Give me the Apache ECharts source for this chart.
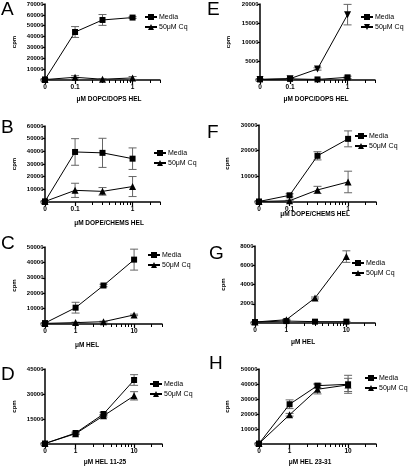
<!DOCTYPE html>
<html><head><meta charset="utf-8">
<script src="https://cdn.jsdelivr.net/npm/echarts@6/dist/echarts.min.js"></script>
<style>html,body{margin:0;padding:0;background:#fff}#c{width:410px;height:467px}</style>
</head><body><div id="c"></div>
<script>
// ---- data (x in μM; 0 is drawn at the left end of the log axis) ----
const xLipo = [0, 0.1, 0.3, 1];
const xHel = [0, 1, 3, 10];
const seriesNames = ['Media', '50μM Cq'];

const mediaA = [500, 44200, 55300, 57500];  const mediaA_err = [200, 5000, 5000, 800];
const cqA    = [400, 2500, 700, 1900];      const cqA_err    = [200, 1500, 400, 1300];
const mediaB = [500, 39500, 38800, 34200];  const mediaB_err = [200, 10500, 11500, 8500];
const cqB    = [400, 9200, 8400, 12200];    const cqB_err    = [200, 5600, 3000, 7900];
const mediaC = [600, 10600, 25000, 41800];  const mediaC_err = [300, 3500, 800, 6800];
const cqC    = [400, 900, 1500, 5900];      const cqC_err    = [100, 300, 300, 500];
const mediaD = [300, 6600, 18000, 38400];   const mediaD_err = [100, 600, 1000, 3200];
const cqD    = [300, 6200, 16900, 28900];   const cqD_err    = [100, 500, 800, 2500];
const mediaE = [150, 300, 150, 700];        const mediaE_err = [50, 100, 50, 300];
const cqE    = [150, 350, 2900, 17200];     const cqE_err    = [50, 100, 300, 2700];
const mediaF = [200, 2600, 18000, 24600];   const mediaF_err = [100, 600, 1600, 3100];
const cqF    = [200, 500, 4700, 7800];      const cqF_err    = [100, 200, 1400, 4200];
const mediaG = [100, 200, 140, 140];        const mediaG_err = [30, 50, 30, 30];
const cqG    = [100, 340, 2600, 6900];      const cqG_err    = [30, 50, 100, 600];
const mediaH = [300, 26500, 38900, 39800];  const mediaH_err = [100, 2900, 1500, 6000];
const cqH    = [300, 19500, 36500, 39400];  const cqH_err    = [100, 900, 3100, 4400];

const xTicksLipo = [0, 0.1, 1];
const xTicksHel = [0, 1, 10];
const xMinorLipo = [0.2, 0.3, 0.4, 0.5, 0.6, 0.7, 0.8, 0.9, 2, 3];
const xMinorHel = [2, 3, 4, 5, 6, 7, 8, 9, 20, 30];

const yMaxA = 70000, yStepA = 10000;
const yMaxB = 60000, yStepB = 10000;
const yMaxC = 50000, yStepC = 10000;
const yMaxD = 45000, yStepD = 15000;
const yMaxE = 20000, yStepE = 5000;
const yMaxF = 30000, yStepF = 10000;
const yMaxG = 8000,  yStepG = 2000;
const yMaxH = 50000, yStepH = 10000;

const xTitleA = 'μM DOPC/DOPS HEL';
const xTitleB = 'μM DOPE/CHEMS HEL';
const xTitleC = 'μM HEL';
const xTitleD = 'μM HEL 11-25';
const xTitleE = 'μM DOPC/DOPS HEL';
const xTitleF = 'μM DOPE/CHEMS HEL';
const xTitleG = 'μM HEL';
const xTitleH = 'μM HEL 23-31';

// ---- layout ----
const FONT = '"Liberation Sans", Arial, sans-serif';
const panels = [
  {id:'A', g:{left:45,top:4,width:115,height:76}, xs:xLipo, xr:[0.03,3], maj:xTicksLipo, mnr:xMinorLipo, m:mediaA, me:mediaA_err, c:cqA, ce:cqA_err, ymax:yMaxA, ystep:yStepA, title:xTitleA, tpos:[109,99], lg:[150,17], letter:[1,0], down:false},
  {id:'B', g:{left:45,top:126,width:115,height:76}, xs:xLipo, xr:[0.03,3], maj:xTicksLipo, mnr:xMinorLipo, m:mediaB, me:mediaB_err, c:cqB, ce:cqB_err, ymax:yMaxB, ystep:yStepB, title:xTitleB, tpos:[109,223], lg:[159,153], letter:[1,118], down:false},
  {id:'C', g:{left:45,top:247,width:117,height:77}, xs:xHel, xr:[0.3,30], maj:xTicksHel, mnr:xMinorHel, m:mediaC, me:mediaC_err, c:cqC, ce:cqC_err, ymax:yMaxC, ystep:yStepC, title:xTitleC, tpos:[87,345], lg:[153,255], letter:[1,234], down:false},
  {id:'D', g:{left:45,top:369,width:117,height:75}, xs:xHel, xr:[0.3,30], maj:xTicksHel, mnr:xMinorHel, m:mediaD, me:mediaD_err, c:cqD, ce:cqD_err, ymax:yMaxD, ystep:yStepD, title:xTitleD, tpos:[105,462], lg:[155,384], letter:[1,365], down:false},
  {id:'E', g:{left:260,top:4,width:115,height:76}, xs:xLipo, xr:[0.03,3], maj:xTicksLipo, mnr:xMinorLipo, m:mediaE, me:mediaE_err, c:cqE, ce:cqE_err, ymax:yMaxE, ystep:yStepE, title:xTitleE, tpos:[316,99], lg:[366,17], letter:[207,0], down:true},
  {id:'F', g:{left:259,top:125,width:117,height:77}, xs:xLipo, xr:[0.03,3], maj:xTicksLipo, mnr:xMinorLipo, m:mediaF, me:mediaF_err, c:cqF, ce:cqF_err, ymax:yMaxF, ystep:yStepF, title:xTitleF, tpos:[315,214], lg:[360,136], letter:[207,123], down:false},
  {id:'G', g:{left:255,top:246,width:120,height:77}, xs:xHel, xr:[0.3,30], maj:xTicksHel, mnr:xMinorHel, m:mediaG, me:mediaG_err, c:cqG, ce:cqG_err, ymax:yMaxG, ystep:yStepG, title:xTitleG, tpos:[303,342], lg:[357,263], letter:[209,244], down:false},
  {id:'H', g:{left:259,top:369,width:117,height:75}, xs:xHel, xr:[0.3,30], maj:xTicksHel, mnr:xMinorHel, m:mediaH, me:mediaH_err, c:cqH, ce:cqH_err, ymax:yMaxH, ystep:yStepH, title:xTitleH, tpos:[310,462], lg:[370,378], letter:[209,354], down:false}
];

const option = {animation:false, backgroundColor:'#fff', grid:[], xAxis:[], yAxis:[], series:[], legend:[], graphic:[]};

function errorSeries(gi, xs, xr, vals, errs, name) {
  return {
    type:'custom', name:name, xAxisIndex:gi*2, yAxisIndex:gi, z:2, silent:true,
    data: xs.map((x,i)=>[x===0?xr[0]:x, Math.max(0, vals[i]-errs[i]), vals[i]+errs[i]]),
    encode:{x:0, y:[1,2]},
    renderItem:(params, api)=>{
      const x = api.value(0);
      const a = api.coord([x, api.value(1)]), b = api.coord([x, api.value(2)]);
      const w = 4, st = {stroke:'#666', lineWidth:1};
      return {type:'group', children:[
        {type:'line', shape:{x1:a[0],y1:a[1],x2:b[0],y2:b[1]}, style:st},
        {type:'line', shape:{x1:a[0]-w,y1:a[1],x2:a[0]+w,y2:a[1]}, style:st},
        {type:'line', shape:{x1:b[0]-w,y1:b[1],x2:b[0]+w,y2:b[1]}, style:st}
      ]};
    }
  };
}

panels.forEach((p, gi)=>{
  option.grid.push(Object.assign({containLabel:false}, p.g));
  const fmt = v => { const r = p.maj.find(t => Math.abs((t===0?p.xr[0]:t) - v) < 1e-9); return r === undefined ? '' : String(r); };
  option.xAxis.push({
    type:'log', logBase:10, gridIndex:gi, min:p.xr[0], max:p.xr[1], position:'bottom',
    axisLine:{show:true, onZero:false, lineStyle:{color:'#000', width:1.5}},
    axisTick:{show:true, inside:false, length:4, lineStyle:{color:'#000', width:1.2},
      customValues: p.maj.map(t => t===0 ? p.xr[0] : t)},
    axisLabel:{show:true, margin:3.5, fontFamily:FONT, fontWeight:'bold', fontSize:6.5, color:'#000',
      customValues: p.maj.map(t => t===0 ? p.xr[0] : t), formatter: fmt},
    splitLine:{show:false}, minorTick:{show:false}
  });
  option.xAxis.push({
    type:'log', logBase:10, gridIndex:gi, min:p.xr[0], max:p.xr[1], position:'bottom',
    axisLine:{show:false, onZero:false},
    axisTick:{show:true, inside:false, length:3, lineStyle:{color:'#000', width:1},
      customValues: p.mnr},
    axisLabel:{show:false}, splitLine:{show:false}
  });
  option.yAxis.push({
    type:'value', gridIndex:gi, min:0, max:p.ymax, interval:p.ystep,
    name:'cpm', nameLocation:'middle', nameGap: (gi<4 ? p.g.left-17 : 29),
    nameTextStyle:{fontFamily:FONT, fontWeight:'bold', fontSize:6, color:'#000'},
    axisLine:{show:true, onZero:false, lineStyle:{color:'#000', width:1.5}},
    axisTick:{show:true, inside:false, length:2.5, lineStyle:{color:'#000', width:1.2}},
    axisLabel:{margin:1.5, fontFamily:FONT, fontWeight:'bold', fontSize:6, color:'#000',
      formatter: v => String(v)},
    splitLine:{show:false}
  });
  const toData = (vals) => p.xs.map((x,i)=>[x===0?p.xr[0]:x, vals[i]]);
  const mName = seriesNames[0] + '|' + p.id, cName = seriesNames[1] + '|' + p.id;
  option.series.push(errorSeries(gi, p.xs, p.xr, p.m, p.me, 'errM'+p.id));
  option.series.push(errorSeries(gi, p.xs, p.xr, p.c, p.ce, 'errC'+p.id));
  option.series.push({
    type:'line', name:cName, xAxisIndex:gi*2, yAxisIndex:gi, data:toData(p.c), z:3,
    symbol:'triangle', symbolSize:7, symbolRotate: p.down?180:0, showAllSymbol:true,
    lineStyle:{color:'#000', width:1}, itemStyle:{color:'#000'}
  });
  option.series.push({
    type:'line', name:mName, xAxisIndex:gi*2, yAxisIndex:gi, data:toData(p.m), z:4,
    symbol:'rect', symbolSize:6, showAllSymbol:true,
    lineStyle:{color:'#000', width:1}, itemStyle:{color:'#000'}
  });
  option.legend.push({
    data:[mName, cName], orient:'vertical', left:p.lg[0]-6, top:p.lg[1]-3.75,
    itemWidth:12, itemHeight:7.5, itemGap:2.5, padding:0, selectedMode:false,
    formatter: n => n.split('|')[0],
    textStyle:{fontFamily:FONT, fontSize:7, color:'#000', lineHeight:7.5, padding:[0,0,0,-3]}
  });
  option.graphic.push({type:'text', left:p.letter[0], top:p.letter[1],
    style:{text:p.id, fontFamily:FONT, fontSize:19, fill:'#000'}});
  option.graphic.push({type:'text', x:p.tpos[0], y:p.tpos[1],
    style:{text:p.title, fontFamily:FONT, fontWeight:'bold', fontSize:6.5, fill:'#000',
      align:'center', verticalAlign:'middle'}});
});

const chart = echarts.init(document.getElementById('c'), null, {renderer:'canvas'});
chart.setOption(option);
</script></body></html>
